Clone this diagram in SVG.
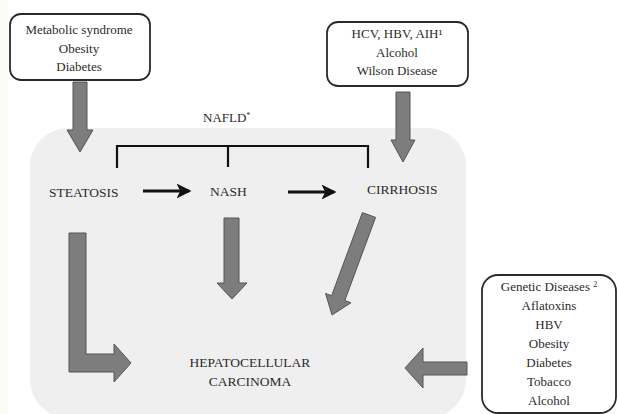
<svg xmlns="http://www.w3.org/2000/svg" width="617" height="414" viewBox="0 0 617 414">
  <defs>
    <style>
      text { font-family: "Liberation Serif", "Times New Roman", "DejaVu Serif", serif; fill: #2b2b2b; }
      .box { fill: #ffffff; stroke: #2a2a2a; stroke-width: 1.8; }
      .lbl { font-size: 13.5px; }
      .bt { font-size: 13px; text-anchor: middle; }
      .garrow { fill: #7d7d7d; stroke: #555555; stroke-width: 1; stroke-linejoin: miter; }
      .bracket { fill: none; stroke: #111111; stroke-width: 2.2; }
      .barrow { stroke: #111111; stroke-width: 3; fill: none; }
    </style>
    <marker id="ah" viewBox="0 0 12 12" refX="10" refY="6" markerWidth="5" markerHeight="5" orient="auto" markerUnits="strokeWidth">
      <path d="M0,0 L12,6 L0,12 L3,6 Z" fill="#111111"/>
    </marker>
  </defs>

  <rect x="0" y="0" width="617" height="414" fill="#ffffff"/>
  <rect x="0" y="0" width="8" height="414" fill="#fdfcf4"/>

  <g id="panel">
    <rect x="30" y="128" width="436" height="290" rx="38" ry="38" fill="#efefef"/>
  </g>

  <g font-family="Liberation Serif, Times New Roman, serif">
  <g id="box-metabolic">
    <rect class="box" x="10" y="14" width="140" height="66" rx="11"/>
    <text class="bt" x="79" y="34">Metabolic  syndrome</text>
    <text class="bt" x="79" y="53">Obesity</text>
    <text class="bt" x="79" y="71">Diabetes</text>
  </g>

  <g id="box-viral">
    <rect class="box" x="327" y="22" width="141" height="64" rx="11"/>
    <text class="bt" x="397" y="38">HCV, HBV, AIH¹</text>
    <text class="bt" x="397" y="57">Alcohol</text>
    <text class="bt" x="397" y="75">Wilson  Disease</text>
  </g>

  <g id="box-genetic">
    <rect class="box" x="482" y="275" width="134" height="138" rx="16"/>
    <text class="bt" x="549" y="291">Genetic  Diseases <tspan font-size="8" dy="-4">2</tspan></text>
    <text class="bt" x="549" y="310">Aflatoxins</text>
    <text class="bt" x="549" y="329">HBV</text>
    <text class="bt" x="549" y="348">Obesity</text>
    <text class="bt" x="549" y="367">Diabetes</text>
    <text class="bt" x="549" y="386">Tobacco</text>
    <text class="bt" x="549" y="405">Alcohol</text>
  </g>

  <g id="nafld">
    <text x="203" y="122" style="font-size:13px">NAFLD<tspan font-size="8" dy="-4">*</tspan></text>
    <path class="bracket" d="M117,168 L117,146 L368,146 L368,168 M228,146 L228,167"/>
  </g>

  <g id="steatosis">
    <text class="lbl" x="49" y="197">STEATOSIS</text>
  </g>
  <g id="nash">
    <text class="lbl" x="210" y="196">NASH</text>
  </g>
  <g id="cirrhosis">
    <text class="lbl" x="367" y="194">CIRRHOSIS</text>
  </g>
  <g id="hcc">
    <text class="lbl" x="250" y="367" text-anchor="middle">HEPATOCELLULAR</text>
    <text class="lbl" x="250" y="386" text-anchor="middle">CARCINOMA</text>
  </g>
  </g>

  <g id="connectors">
    <line class="barrow" x1="143" y1="191" x2="189" y2="191" marker-end="url(#ah)"/>
    <line class="barrow" x1="288" y1="192" x2="334" y2="192" marker-end="url(#ah)"/>
    <polygon class="garrow" points="73,82 87,82 87,130 93,130 80,152 67,130 73,130"/>
    <polygon class="garrow" points="396,92 410,92 410,140 415,140 403,162 391,140 396,140"/>
    <polygon class="garrow" points="224,218 239,218 239,283 247,283 232,299 217,283 224,283"/>
    <polygon class="garrow" points="69,233 86,233 86,354 114,354 114,344 131,363 114,382 114,372 69,372"/>
    <polygon class="garrow" points="362.4,212.6 375.6,217.4 344.8,300.5 350.9,302.8 332,315 325.5,293.4 331.6,295.7"/>
    <polygon class="garrow" points="467,362 423,362 423,348 405,368 423,388 423,375 467,375"/>
  </g>
</svg>
